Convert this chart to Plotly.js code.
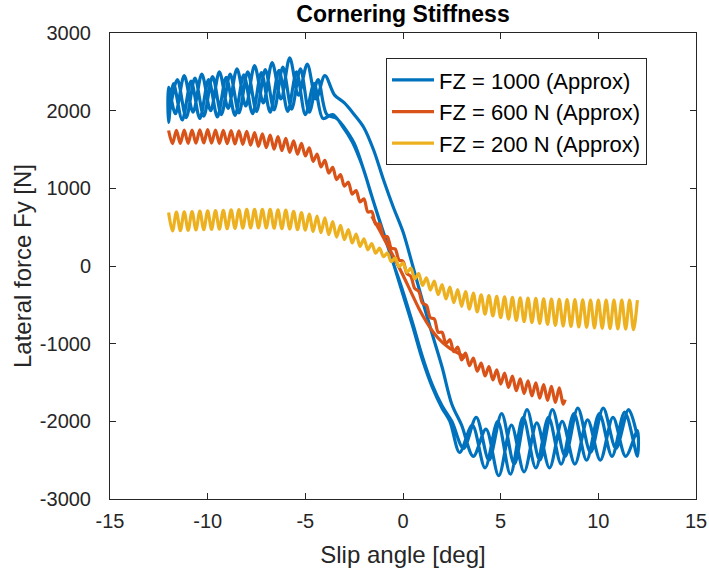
<!DOCTYPE html>
<html>
<head>
<meta charset="utf-8">
<script src="https://cdn.plot.ly/plotly-3.0.1.min.js"></script>
<style>html,body{margin:0;padding:0;background:#fff;}#chart{width:709px;height:576px;}</style>
</head>
<body>
<div id="chart"></div>
<script>
// ---- data ----
var seriesNames = ['FZ = 1000 (Approx)', 'FZ = 600 N (Approx)', 'FZ = 200 N (Approx)'];

// FZ = 1000: three sweeps (-12 -> 12, 12 -> -12, -12 -> 12), peaks/troughs
var blueX = [
  -12, -11.55, -11.1, -10.65, -10.2, -9.75, -9.3, -8.85, -8.4, -7.95, -7.5, -7.05, -6.6, -6.15, -5.7, -5.25, -4.8, -4.35, -3.9,
  -3.4, -3.0, -2.5, -2.0, -1.5, -1.0, -0.45, 0, 0.5, 1.0, 1.5, 2.0, 2.4,
  2.9, 3.55, 4.2, 4.85, 5.5, 6.15, 6.8, 7.45, 8.1, 8.75, 9.4, 10.05, 10.7, 11.35, 12,
  12, 11.4, 10.75, 10.1, 9.45, 8.8, 8.15, 7.5, 6.85, 6.2, 5.55, 4.9, 4.25, 3.6,
  3.0, 2.5, 2.0, 1.5, 1.0, 0.5, 0, -0.5, -1.0, -1.5, -2.0, -2.5, -3.0, -3.5,
  -4.0, -4.45, -4.9, -5.35, -5.8, -6.25, -6.7, -7.15, -7.6, -8.05, -8.5, -8.95, -9.4, -9.85, -10.3, -10.75, -11.2, -11.65, -12,
  -12, -11.75, -11.3, -10.85, -10.4, -9.95, -9.5, -9.05, -8.6, -8.15, -7.7, -7.25, -6.8, -6.35, -5.9, -5.45, -5.0, -4.55, -4.1,
  -3.6, -3.1, -2.6, -2.1, -1.6, -1.1, -0.5, 0, 0.5, 1.0, 1.5, 2.0, 2.5,
  3.1, 3.75, 4.4, 5.05, 5.7, 6.35, 7.0, 7.65, 8.3, 8.95, 9.6, 10.25, 10.9, 11.55, 12
];
var blueY = [
  1900, 2400, 1910, 2420, 1930, 2440, 1950, 2470, 1970, 2500, 1990, 2530, 2010, 2560, 2020, 2540, 1980, 2400, 1950,
  1900, 1780, 1580, 1230, 820, 430, 0, -370, -780, -1210, -1560, -1830, -2000,
  -2400, -2050, -2600, -2000, -2680, -1950, -2600, -1950, -2550, -1900, -2500, -1900, -2450, -1880, -2450,
  -2120, -2450, -1950, -2500, -1980, -2550, -2000, -2600, -2020, -2650, -2050, -2700, -2100, -2450,
  -2050, -1780, -1300, -880, -450, 0, 440, 760, 1110, 1490, 1780, 1950, 2100, 2200,
  2450, 2150, 2600, 2200, 2680, 2150, 2620, 2100, 2580, 2060, 2540, 2030, 2500, 2000, 2470, 1980, 2450, 1960, 2300,
  1850, 2350, 1880, 2380, 1900, 2400, 1920, 2430, 1940, 2460, 1960, 2490, 1980, 2520, 1990, 2500, 1950, 2350, 1900,
  1950, 1800, 1600, 1300, 900, 500, 40, -330, -740, -1170, -1530, -1800, -2000,
  -2350, -1950, -2500, -1900, -2550, -1850, -2500, -1850, -2450, -1830, -2400, -1830, -2350, -1850, -2200
];

// FZ = 600 N
var orangeX = [
  -12.0, -11.8, -11.6, -11.4, -11.2, -11.0, -10.8, -10.6, -10.4, -10.2,
  -10.0, -9.8, -9.6, -9.4, -9.2, -9.0, -8.8, -8.6, -8.4, -8.2,
  -8.0, -7.8, -7.6, -7.4, -7.2, -7.0, -6.8, -6.6, -6.4, -6.2,
  -6.0, -5.8, -5.6, -5.4, -5.2, -5.0, -4.8, -4.6, -4.4, -4.2,
  -4.0, -3.8, -3.6, -3.4, -3.2, -3.0, -2.8, -2.6, -2.4, -2.2,
  -2.0, -1.8, -1.6, -1.4, -1.2, -1.0, -0.8, -0.6, -0.4, -0.2,
  0.0, 0.2, 0.4, 0.6, 0.8, 1.0, 1.2, 1.4, 1.6, 1.8,
  2.0, 2.2, 2.4, 2.6, 2.8, 3.0, 3.2, 3.4, 3.6, 3.8,
  4.0, 4.2, 4.4, 4.6, 4.8, 5.0, 5.2, 5.4, 5.6, 5.8,
  6.0, 6.2, 6.4, 6.6, 6.8, 7.0, 7.2, 7.4, 7.6, 7.8,
  8.0, 8.2, 8.3
];
var orangeY = [
  1745, 1576, 1747, 1578, 1749, 1580, 1751, 1582, 1753, 1584,
  1755, 1583, 1751, 1579, 1747, 1575, 1743, 1571, 1739, 1567,
  1735, 1557, 1719, 1541, 1703, 1525, 1685, 1505, 1665, 1485,
  1645, 1463, 1612, 1440, 1579, 1417, 1522, 1346, 1441, 1275,
  1360, 1197, 1269, 1112, 1178, 1027, 1079, 926, 972, 825,
  865, 696, 702, 539, 539, 382, 378, 229, 219, 76,
  60, -96, -132, -288, -324, -480, -507, -666, -681, -852,
  -855, -998, -949, -1104, -1043, -1210, -1122, -1282, -1186, -1354,
  -1250, -1416, -1294, -1468, -1338, -1520, -1379, -1563, -1416, -1606,
  -1453, -1642, -1479, -1672, -1504, -1703, -1528, -1730, -1549, -1757,
  -1570, -1780, -1720
];
// FZ = 600 N, smoother return branch in the middle
var orangeLoopX = [-1.6, -1.2, -0.8, -0.4, 0, 0.4, 0.8, 1.2, 1.6, 2.0, 2.4, 2.8, 3.2];
var orangeLoopY = [640, 460, 270, 80, -120, -330, -540, -720, -870, -980, -1060, -1120, -1180];

// FZ = 200 N
var yellowX = [
  -12.0, -11.8, -11.6, -11.4, -11.2, -11.0, -10.8, -10.6, -10.4, -10.2,
  -10.0, -9.8, -9.6, -9.4, -9.2, -9.0, -8.8, -8.6, -8.4, -8.2,
  -8.0, -7.8, -7.6, -7.4, -7.2, -7.0, -6.8, -6.6, -6.4, -6.2,
  -6.0, -5.8, -5.6, -5.4, -5.2, -5.0, -4.8, -4.6, -4.4, -4.2,
  -4.0, -3.8, -3.6, -3.4, -3.2, -3.0, -2.8, -2.6, -2.4, -2.2,
  -2.0, -1.8, -1.6, -1.4, -1.2, -1.0, -0.8, -0.6, -0.4, -0.2,
  0.0, 0.2, 0.4, 0.6, 0.8, 1.0, 1.2, 1.4, 1.6, 1.8,
  2.0, 2.2, 2.4, 2.6, 2.8, 3.0, 3.2, 3.4, 3.6, 3.8,
  4.0, 4.2, 4.4, 4.6, 4.8, 5.0, 5.2, 5.4, 5.6, 5.8,
  6.0, 6.2, 6.4, 6.6, 6.8, 7.0, 7.2, 7.4, 7.6, 7.8,
  8.0, 8.2, 8.4, 8.6, 8.8, 9.0, 9.2, 9.4, 9.6, 9.8,
  10.0, 10.2, 10.4, 10.6, 10.8, 11.0, 11.2, 11.4, 11.6, 11.8,
  12.0
];
var yellowY = [
  690, 452, 694, 456, 698, 460, 702, 464, 706, 468,
  710, 472, 714, 476, 718, 480, 722, 484, 726, 488,
  730, 490, 730, 490, 730, 490, 728, 486, 724, 482,
  720, 476, 704, 468, 688, 460, 668, 444, 644, 428,
  620, 404, 572, 372, 524, 340, 470, 296, 410, 252,
  350, 208, 290, 164, 230, 120, 168, 56, 104, -8,
  40, -82, -28, -166, -96, -250, -152, -310, -196, -370,
  -240, -424, -272, -472, -304, -520, -330, -556, -350, -592,
  -370, -621, -380, -643, -390, -665, -398, -683, -404, -701,
  -410, -716, -414, -728, -418, -740, -422, -752, -426, -764,
  -430, -773, -432, -779, -434, -785, -436, -791, -438, -797,
  -440, -802, -440, -806, -440, -810, -440, -814, -440, -818,
  -440
];

var xTickVals = [-15, -10, -5, 0, 5, 10, 15];
var xTickText = ['-15', '-10', '-5', '0', '5', '10', '15'];
var yTickVals = [-3000, -2000, -1000, 0, 1000, 2000, 3000];
var yTickText = ['-3000', '-2000', '-1000', '0', '1000', '2000', '3000'];

// ---- styling ----
var colors = ['#0072BD', '#D95319', '#EDB120'];
var LW = 3.2;
var FONT = 'Liberation Sans, Arial, Helvetica, sans-serif';
var INK = '#262626';

var traces = [
  {x: blueX, y: blueY, name: seriesNames[0], legendgroup: 'a', mode: 'lines',
   line: {color: colors[0], width: LW, shape: 'spline', smoothing: 0.9}},
  {x: orangeLoopX, y: orangeLoopY, name: seriesNames[1], legendgroup: 'b', showlegend: false, mode: 'lines',
   line: {color: colors[1], width: LW, shape: 'spline', smoothing: 0.9}},
  {x: orangeX, y: orangeY, name: seriesNames[1], legendgroup: 'b', mode: 'lines',
   line: {color: colors[1], width: LW, shape: 'spline', smoothing: 0.9}},
  {x: yellowX, y: yellowY, name: seriesNames[2], legendgroup: 'c', mode: 'lines',
   line: {color: colors[2], width: LW, shape: 'spline', smoothing: 0.9}}
];

var axisCommon = {
  showgrid: false, zeroline: false, showline: true, mirror: 'ticks',
  linecolor: INK, linewidth: 1, ticks: 'inside', ticklen: 6, tickcolor: INK, tickwidth: 1,
  tickfont: {family: FONT, size: 20, color: INK}
};

var layout = {
  width: 709, height: 576,
  margin: {l: 110, r: 13, t: 33, b: 77, pad: 0},
  paper_bgcolor: '#ffffff', plot_bgcolor: '#ffffff',
  font: {family: FONT, color: INK},
  showlegend: true,
  hovermode: false,
  title: {text: '<b>Cornering Stiffness</b>', font: {family: FONT, size: 23, color: '#000'},
          x: 0.5, xref: 'paper', xanchor: 'center', y: 0.975, yref: 'container', yanchor: 'middle'},
  xaxis: Object.assign({}, axisCommon, {
    range: [-15, 15], tickmode: 'array', tickvals: xTickVals, ticktext: xTickText,
    ticklabelstandoff: 4,
    title: {text: 'Slip angle [deg]', font: {family: FONT, size: 24, color: INK}, standoff: 15}
  }),
  yaxis: Object.assign({}, axisCommon, {
    range: [-3000, 3000], tickmode: 'array', tickvals: yTickVals, ticktext: yTickText,
    ticklabelstandoff: 14,
    title: {text: 'Lateral force Fy [N]', font: {family: FONT, size: 24, color: INK}, standoff: 1}
  }),
  legend: {
    x: 0.471, y: 0.946, xanchor: 'left', yanchor: 'top',
    bgcolor: '#ffffff', bordercolor: INK, borderwidth: 1,
    font: {family: FONT, size: 22, color: '#000'},
    tracegroupgap: 0, itemwidth: 42, traceorder: 'normal'
  }
};

Plotly.newPlot('chart', traces, layout, {displayModeBar: false, staticPlot: true});
</script>
</body>
</html>
